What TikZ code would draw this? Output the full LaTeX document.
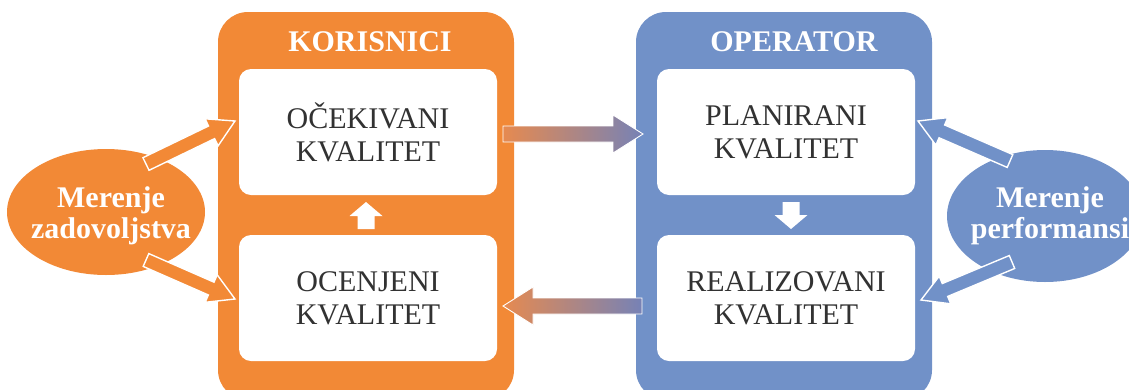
\documentclass[tikz,border=0pt]{standalone}
\usepackage{fontspec}
\setmainfont{Liberation Serif}
\usetikzlibrary{calc,shapes.geometric}
\definecolor{orng}{RGB}{242,137,54}
\definecolor{blu}{RGB}{113,145,200}
\definecolor{txt}{RGB}{50,50,50}
\definecolor{midO}{RGB}{230,138,80}
\definecolor{midB}{RGB}{118,130,182}
% #1 options, #2 tail, #3 tip, #4 shaft half width, #5 head half width, #6 head length
\newcommand\blockarrow[6]{%
  \path[#1] ($(#2)!#4!90:(#3)$)
    -- ($($(#3)!#6!(#2)$)!#4!90:(#3)$)
    -- ($($(#3)!#6!(#2)$)!#5!90:(#3)$)
    -- (#3)
    -- ($($(#3)!#6!(#2)$)!#5!-90:(#3)$)
    -- ($($(#3)!#6!(#2)$)!#4!-90:(#3)$)
    -- ($(#2)!#4!-90:(#3)$) -- cycle;}
\begin{document}
\begin{tikzpicture}[x=1pt,y=-1pt,
  frame/.style={rectangle, rounded corners=30pt, minimum width=296pt, minimum height=388pt, inner sep=0pt},
  inbox/.style={rectangle, rounded corners=12pt, fill=white, minimum width=258pt, minimum height=126pt,
    inner sep=0pt, align=center, text=txt, font=\fontsize{30}{33}\selectfont},
  title/.style={text=white, font=\bfseries\fontsize{30}{33}\selectfont, inner sep=0pt},
  meas/.style={ellipse, inner sep=0pt},
  meastext/.style={text=white, align=center, font=\bfseries\fontsize{30}{31}\selectfont, inner sep=0pt},
  sidearrow/.style={draw=white, line width=1.4pt, line join=miter},
  midarrow/.style={draw=white, line width=0.9pt, left color=midO, right color=midB},
  smallarrow/.style={fill=white}]
\useasboundingbox (0,0) rectangle (1129,389);
\clip (0,0) rectangle (1129,389);
% frames
\node[frame, fill=orng] (kor) at (366,206) {};
\node[frame, fill=blu] (op) at (784,206) {};
\node[title] (korT) at (370,42) {KORISNICI};
\node[title] (opT) at (794,42) {OPERATOR};
% inner boxes
\node[inbox] (oce) at (368,132) {OČEKIVANI\\KVALITET};
\node[inbox] (ocj) at (368,298) {OCENJENI\\KVALITET};
\node[inbox] (pla) at (786,132) {PLANIRANI\\KVALITET};
\node[inbox] (rea) at (786,298) {REALIZOVANI\\KVALITET};
% measurement ellipses
\node[meas, fill=orng, minimum width=198pt, minimum height=126pt] (mz) at (106,212) {};
\node[meastext] (mzT) at (111,216) {Merenje\\zadovoljstva};
\node[meas, fill=blu, minimum width=196pt, minimum height=132pt] (mp) at (1045,216) {};
\node[meastext] (mpT) at (1050,216) {Merenje\\performansi};
% connector end points
\coordinate (a1s) at (146,164);
\coordinate (a1e) at (235,121);
\coordinate (a2s) at (146,260);
\coordinate (a2e) at (235,299);
\coordinate (b1s) at (1010,161);
\coordinate (b1e) at (918,121);
\coordinate (b2s) at (1012,262);
\coordinate (b2e) at (921,300);
\coordinate (m1s) at (503,134);
\coordinate (m1e) at (643,134);
\coordinate (m2s) at (642,306);
\coordinate (m2e) at (503,306);
\coordinate (u1s) at (366,229);
\coordinate (u1e) at (366,202);
\coordinate (d1s) at (791,202);
\coordinate (d1e) at (791,229);
% side arrows
\blockarrow{sidearrow, fill=orng}{a1s}{a1e}{7pt}{15pt}{26pt}
\blockarrow{sidearrow, fill=orng}{a2s}{a2e}{7pt}{15pt}{26pt}
\blockarrow{sidearrow, fill=blu}{b1s}{b1e}{7pt}{15pt}{26pt}
\blockarrow{sidearrow, fill=blu}{b2s}{b2e}{7pt}{15pt}{26pt}
% middle arrows
\blockarrow{midarrow}{m1s}{m1e}{8pt}{19pt}{30pt}
\blockarrow{midarrow}{m2s}{m2e}{8pt}{19pt}{30pt}
% small vertical arrows
\blockarrow{smallarrow}{u1s}{u1e}{8.5pt}{16.5pt}{14pt}
\blockarrow{smallarrow}{d1s}{d1e}{8.5pt}{16.5pt}{14pt}
\end{tikzpicture}
\end{document}
